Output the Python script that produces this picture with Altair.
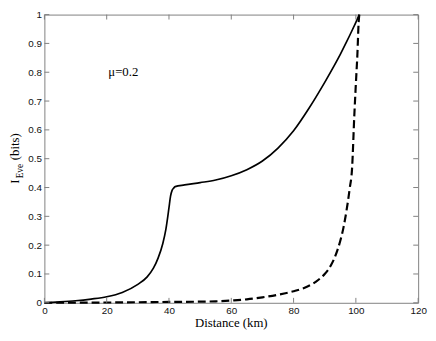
import altair as alt
import pandas as pd

# ---- data ----
solid_km = [0, 5, 10, 15, 20, 25, 30, 33, 35, 36.5, 38, 39, 40, 40.5, 41, 41.5, 42,
            45, 50, 55, 60, 65, 70, 75, 80, 85, 90, 93, 95, 97, 99, 100, 101.1]
solid_ieve = [0, 0.003, 0.007, 0.013, 0.021, 0.036, 0.064, 0.09, 0.12, 0.155, 0.205, 0.255,
              0.33, 0.37, 0.39, 0.398, 0.403, 0.409, 0.417, 0.426, 0.441, 0.462, 0.492, 0.537,
              0.597, 0.676, 0.765, 0.822, 0.862, 0.905, 0.95, 0.973, 1.0]

dashed_km = [0, 10, 20, 30, 40, 50, 55, 60, 65, 70, 75, 80, 83, 86, 88, 90, 92, 94, 95, 96,
             97, 98, 98.8, 99.5, 100, 100.5, 100.9, 101.1]
dashed_ieve = [0, 0.0005, 0.001, 0.002, 0.003, 0.004, 0.005, 0.008, 0.012, 0.019, 0.028, 0.04,
               0.05, 0.065, 0.08, 0.1, 0.13, 0.18, 0.215, 0.26, 0.32, 0.395, 0.47, 0.65, 0.76,
               0.865, 0.975, 1.0]

x_ticks = [0, 20, 40, 60, 80, 100, 120]
y_ticks = [0, 0.1, 0.2, 0.3, 0.4, 0.5, 0.6, 0.7, 0.8, 0.9, 1]
annotation = ["μ=0.2"]
x_title = ["Distance (km)"]
y_title_main = ["I"]
y_title_sub = ["Eve"]
y_title_unit = ["(bits)"]

solid_df = pd.DataFrame({"km": solid_km, "ieve": solid_ieve})
dashed_df = pd.DataFrame({"km": dashed_km, "ieve": dashed_ieve})
xt_df = pd.DataFrame({"v": x_ticks})
yt_df = pd.DataFrame({"v": y_ticks})

W, H = 380, 293
TICK = 5
xscale = alt.Scale(domain=[0, 120], nice=False, zero=False)
yscale = alt.Scale(domain=[0, 1], nice=False)

FRAME = "#7f7f7f"
common = dict(
    domainColor=FRAME, domainWidth=1, ticks=False, grid=False, labelFlush=False,
    labelFont="Liberation Sans", labelFontSize=10, labelColor="#111111",
)

x_bottom = alt.Axis(values=x_ticks, title=None, labelPadding=3, **common)
y_left = alt.Axis(values=y_ticks, title=None, format="~g", labelPadding=3, **common)
x_top = alt.Axis(values=x_ticks, orient="top", labels=False, title=None, **common)
y_right = alt.Axis(values=y_ticks, orient="right", labels=False, title=None, **common)

solid = alt.Chart(solid_df).mark_line(color="black", strokeWidth=1.7, interpolate="monotone").encode(
    x=alt.X("km:Q", scale=xscale, axis=x_bottom),
    y=alt.Y("ieve:Q", scale=yscale, axis=y_left),
    order="km:Q",
)
dashed = alt.Chart(dashed_df).mark_line(color="black", strokeWidth=2.2, strokeDash=[8, 4],
                                        interpolate="monotone").encode(
    x=alt.X("km:Q", scale=xscale, axis=x_top),
    y=alt.Y("ieve:Q", scale=yscale, axis=y_right),
    order="km:Q",
)

# inward ticks on all four sides
tick_style = dict(color=FRAME, strokeWidth=1)
xt_bottom = alt.Chart(xt_df).mark_rule(**tick_style).encode(
    x=alt.X("v:Q", scale=xscale, axis=None), y=alt.value(H), y2=alt.value(H - TICK))
xt_top = alt.Chart(xt_df).mark_rule(**tick_style).encode(
    x=alt.X("v:Q", scale=xscale, axis=None), y=alt.value(0), y2=alt.value(TICK))
yt_left = alt.Chart(yt_df).mark_rule(**tick_style).encode(
    y=alt.Y("v:Q", scale=yscale, axis=None), x=alt.value(0), x2=alt.value(TICK))
yt_right = alt.Chart(yt_df).mark_rule(**tick_style).encode(
    y=alt.Y("v:Q", scale=yscale, axis=None), x=alt.value(W), x2=alt.value(W - TICK))

serif = "Liberation Serif"
mu_text = alt.Chart(pd.DataFrame({"t": annotation})).mark_text(
    font=serif, fontSize=13, align="left", baseline="middle", color="black"
).encode(x=alt.value(65), y=alt.value(58), text="t:N")

xt_text = alt.Chart(pd.DataFrame({"t": x_title})).mark_text(
    font=serif, fontSize=13, align="center", baseline="alphabetic", color="black"
).encode(x=alt.value(W / 2), y=alt.value(H + 25), text="t:N")

t_main = alt.Chart(pd.DataFrame({"t": y_title_main})).mark_text(
    font=serif, fontSize=13, align="left", baseline="alphabetic", angle=270, color="black"
).encode(x=alt.value(-26), y=alt.value(172), text="t:N")
t_sub = alt.Chart(pd.DataFrame({"t": y_title_sub})).mark_text(
    font=serif, fontSize=9.5, align="left", baseline="alphabetic", angle=270, color="black"
).encode(x=alt.value(-22), y=alt.value(166.5), text="t:N")
t_unit = alt.Chart(pd.DataFrame({"t": y_title_unit})).mark_text(
    font=serif, fontSize=13, align="left", baseline="alphabetic", angle=270, color="black"
).encode(x=alt.value(-26), y=alt.value(148), text="t:N")

chart = alt.layer(
    solid, dashed, xt_bottom, xt_top, yt_left, yt_right,
    mu_text, xt_text, t_main, t_sub, t_unit,
).resolve_axis(
    x="independent", y="independent"
).properties(
    width=W, height=H,
    autosize=alt.AutoSizeParams(type="none"),
    padding={"left": 37, "top": 4, "right": 10, "bottom": 28},
    background="white",
).configure_view(stroke=None)

chart.save("out.html", embed_options={"renderer": "svg", "actions": False})
